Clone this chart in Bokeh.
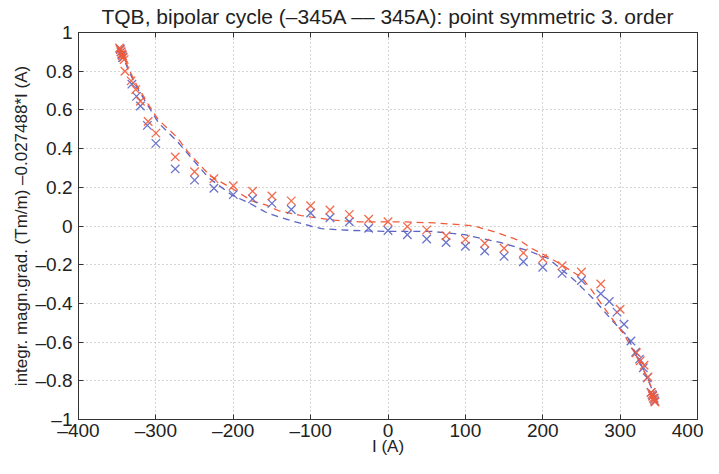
from bokeh.plotting import figure
from bokeh.models import LinearAxis, FixedTicker, Range1d, ColumnDataSource, CustomLabelingPolicy
from bokeh.embed import file_html
from bokeh.resources import INLINE

title_text = "TQB, bipolar cycle (\u2013345A \u2013\u2013 345A): point symmetric 3. order"
x_label = "I (A)"
y_label = "integr. magn.grad. (Tm/m) \u20130.027488*I (A)"

x_ticks = [-400, -300, -200, -100, 0, 100, 200, 300, 400]
x_tick_labels = ["\u2013400", "\u2013300", "\u2013200", "\u2013100", "0", "100", "200", "300", "400"]
y_ticks = [-1, -0.8, -0.6, -0.4, -0.2, 0, 0.2, 0.4, 0.6, 0.8, 1]
y_tick_labels = ["\u20131", "\u20130.8", "\u20130.6", "\u20130.4", "\u20130.2", "0", "0.2", "0.4", "0.6", "0.8", "1"]

# measured points, series 1 (red)
red_I = [-347, -346, -345, -344, -343, -342, -341, -340, -332, -326, -320, -310, -300,
         -275, -250, -225, -200, -175, -150, -125, -100, -75, -50, -25, 0, 25, 50, 75,
         100, 125, 150, 175, 200, 225, 250, 275, 300, 321, 326, 331, 336,
         340, 341, 342, 343, 344, 345]
red_v = [0.92, 0.91, 0.90, 0.89, 0.88, 0.87, 0.86, 0.80, 0.75, 0.705, 0.645, 0.54, 0.48,
         0.357, 0.28, 0.245, 0.208, 0.18, 0.155, 0.13, 0.105, 0.083, 0.06, 0.035, 0.022, -0.003, -0.02, -0.05,
         -0.069, -0.089, -0.115, -0.139, -0.168, -0.205, -0.238, -0.30, -0.43, -0.655, -0.696, -0.72, -0.78,
         -0.86, -0.87, -0.88, -0.89, -0.90, -0.91]

# measured points, series 2 (blue)
blue_I = [-346, -345, -344, -343, -331, -325, -320, -311, -300, -275, -250, -225, -200,
          -175, -150, -125, -100, -75, -50, -25, 0, 25, 50, 75, 100, 125, 150, 175, 200,
          225, 250, 275, 286, 296, 305, 314, 320, 325, 330, 335, 340, 342, 344, 345]
blue_v = [0.915, 0.90, 0.885, 0.87, 0.733, 0.67, 0.62, 0.52, 0.427, 0.295, 0.237, 0.195, 0.162,
          0.14, 0.117, 0.085, 0.067, 0.043, 0.022, -0.012, -0.023, -0.045, -0.067, -0.085, -0.105, -0.129, -0.157, -0.185, -0.213,
          -0.245, -0.282, -0.35, -0.39, -0.445, -0.508, -0.594, -0.652, -0.688, -0.733, -0.785, -0.86, -0.875, -0.89, -0.905]

# fitted curves
red_fit_I = [-345, -335, -325, -310, -297, -273, -258, -230, -200, -176, -159, -142, -112, -99,
             -69, -36, 0, 22, 60, 99, 112, 142, 172, 185, 200, 220, 250, 263, 286, 305, 320, 335, 345]
red_fit_v = [0.91, 0.81, 0.73, 0.63, 0.55, 0.46, 0.38, 0.26, 0.19, 0.13, 0.11, 0.08, 0.054, 0.046,
             0.03, 0.021, 0.021, 0.021, 0.016, 0.005, 0.0, -0.036, -0.078, -0.115, -0.145, -0.19, -0.265, -0.33, -0.46, -0.56, -0.665, -0.78, -0.88]

blue_fit_I = [-345, -335, -325, -310, -296, -273, -258, -232, -202, -180, -155, -125, -100, -86,
              -47, -4, 56, 99, 146, 181, 207, 232, 241, 267, 290, 308, 323, 336, 345]
blue_fit_v = [0.90, 0.80, 0.72, 0.62, 0.53, 0.44, 0.37, 0.25, 0.16, 0.12, 0.065, 0.027, 0.0, -0.014,
              -0.023, -0.028, -0.028, -0.045, -0.086, -0.127, -0.168, -0.25, -0.28, -0.383, -0.49, -0.564, -0.68, -0.795, -0.88]

RED = "#f25a3a"
BLUE = "#5a64c4"
FONT = "Liberation Sans"

p = figure(width=703, height=458, x_range=Range1d(-400, 400), y_range=Range1d(-1, 1),
           output_backend="svg", toolbar_location=None,
           min_border_left=78, min_border_right=6, min_border_top=32, min_border_bottom=4)

p.title.text = title_text
p.title.align = "center"
p.title.text_font = FONT
p.title.text_font_style = "normal"
p.title.text_font_size = "21px"
p.title.text_color = "#222222"
p.title.standoff = 2
p.title.offset = 0

xt = FixedTicker(ticks=x_ticks)
yt = FixedTicker(ticks=y_ticks)

for ax, ticks, labels, t in ((p.xaxis[0], x_ticks, x_tick_labels, xt), (p.yaxis[0], y_ticks, y_tick_labels, yt)):
    ax.ticker = t
    ax.major_label_overrides = dict(zip(ticks, labels))
    ax.major_tick_in = 5
    ax.major_tick_out = 0
    ax.minor_tick_line_color = None
    ax.major_label_text_font = FONT
    ax.major_label_text_font_size = "19px"
    ax.major_label_text_color = "#222222"
    ax.axis_label_text_font = FONT
    ax.axis_label_text_font_size = "17px"
    ax.axis_label_text_font_style = "normal"
    ax.axis_label_text_color = "#222222"
    ax.axis_line_color = "#333333"
    ax.major_tick_line_color = "#333333"

p.xaxis.axis_label = x_label
p.yaxis.axis_label = y_label
p.xaxis.major_label_standoff = 0
p.xaxis.axis_label_standoff = -7
p.yaxis.major_label_standoff = 6
p.yaxis.axis_label_standoff = 2

no_labels = "for (const i of indices) { indices.unset(i) }\nreturn indices"
top = LinearAxis(ticker=FixedTicker(ticks=x_ticks), major_label_policy=CustomLabelingPolicy(code=no_labels),
                 major_label_text_font_size="1px",
                 major_tick_in=5, major_tick_out=0, minor_tick_line_color=None,
                 major_label_standoff=0, axis_line_color="#333333", major_tick_line_color="#333333")
right = LinearAxis(ticker=FixedTicker(ticks=y_ticks), major_label_policy=CustomLabelingPolicy(code=no_labels),
                   major_label_text_font_size="1px",
                   major_tick_in=5, major_tick_out=0, minor_tick_line_color=None,
                   major_label_standoff=0, axis_line_color="#333333", major_tick_line_color="#333333")
p.add_layout(top, "above")
p.add_layout(right, "right")

p.xgrid.ticker = xt
p.ygrid.ticker = yt
p.grid.grid_line_color = "#aaaaaa"
p.grid.grid_line_dash = "1 3"
p.grid.grid_line_width = 1
p.outline_line_color = "#333333"

src_rf = ColumnDataSource(dict(x=red_fit_I, y=red_fit_v))
src_bf = ColumnDataSource(dict(x=blue_fit_I, y=blue_fit_v))
src_r = ColumnDataSource(dict(x=red_I, y=red_v))
src_b = ColumnDataSource(dict(x=blue_I, y=blue_v))

p.line("x", "y", source=src_bf, line_color=BLUE, line_dash="7 5", line_width=1.3)
p.line("x", "y", source=src_rf, line_color=RED, line_dash="7 5", line_width=1.3)
p.scatter("x", "y", source=src_b, marker="x", size=12, line_color=BLUE, line_width=1.3, line_alpha=0.9)
p.scatter("x", "y", source=src_r, marker="x", size=12, line_color=RED, line_width=1.3, line_alpha=0.9)

open("out.html", "w").write(file_html(p, INLINE))
